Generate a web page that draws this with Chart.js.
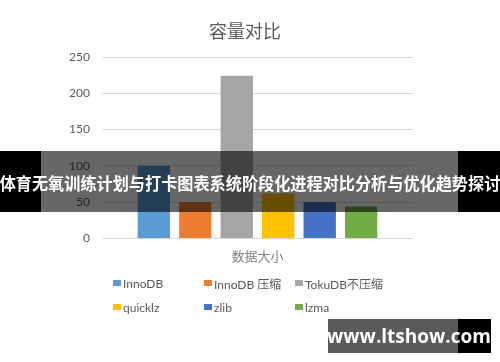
<!DOCTYPE html>
<html>
<head>
<meta charset="utf-8">
<script src="https://cdn.jsdelivr.net/npm/chart.js@4"></script>
<style>
  html, body { margin: 0; padding: 0; background: #fff; }
  #wrap { position: relative; width: 500px; height: 362px; overflow: hidden; }
  #c { position: absolute; left: 0; top: 0; }
  #title { position: absolute; left: 245px; top: 30px; transform: translate(-50%, -50%); white-space: nowrap;
    font-family: 'Noto Sans CJK SC', sans-serif; font-size: 18px; color: #595959; }
  #legend { position: absolute; left: 113px; top: 275px; width: 300px;
    display: grid; grid-template-columns: 91px 91px 110px; row-gap: 8px;
    font-family: Lato, 'Noto Sans CJK SC', sans-serif; font-size: 12px; color: #595959; }
  #legend .it { display: flex; align-items: center; height: 16px; white-space: nowrap; }
  #legend .sw { width: 8px; height: 6px; margin-right: 2px; }
  #banner { position: absolute; left: 0; top: 151px; width: 500px; height: 61px;
    background: linear-gradient(to right, #000 0, #000 41px, rgba(0,0,0,0.6) 41px, rgba(0,0,0,0.6) 458px, #000 458px, #000 500px); }
  #banner span { position: absolute; left: 250px; top: 31px; white-space: nowrap;
    transform: translate(-50%, -50%) scaleX(0.95);
    font-family: 'Noto Sans CJK SC', sans-serif; font-weight: bold; font-size: 17px; color: #fff; }
  #wm { position: absolute; left: 328px; top: 319px; width: 163px; height: 34px;
    background: linear-gradient(to right, #5a5a5a 0, #5a5a5a 130px, #000 130px, #000 163px); }
  #wm span { position: absolute; left: 81px; top: 17px; transform: translate(-50%, -50%);
    white-space: nowrap; font-family: 'Open Sans', 'DejaVu Sans', sans-serif; font-weight: bold; font-size: 19px; color: #fff; }
</style>
</head>
<body>
<div id="wrap">
  <canvas id="c" width="500" height="362"></canvas>
  <div id="title"></div>
  <div id="legend"></div>
  <div id="banner"><span>体育无氧训练计划与打卡图表系统阶段化进程对比分析与优化趋势探讨</span></div>
  <div id="wm"><span>www.ltshow.com</span></div>
</div>
<script>
const chartTitle = '容量对比';
const categories = ['数据大小'];
const seriesNames = ['InnoDB', 'InnoDB 压缩', 'TokuDB不压缩', 'quicklz', 'zlib', 'lzma'];
const seriesValues = [100, 50, 224, 62, 50, 44];
const seriesColors = ['#5B9BD5', '#ED7D31', '#A5A5A5', '#FFC000', '#4472C4', '#70AD47'];
const yTicks = [0, 50, 100, 150, 200, 250];

document.getElementById('title').textContent = chartTitle;

const datasets = seriesNames.map((name, i) => ({
  label: name,
  data: [seriesValues[i]],
  backgroundColor: seriesColors[i],
  barPercentage: 0.78,
  categoryPercentage: 0.80
}));

const legend = document.getElementById('legend');
datasets.forEach(ds => {
  const it = document.createElement('div');
  it.className = 'it';
  const sw = document.createElement('span');
  sw.className = 'sw';
  sw.style.background = ds.backgroundColor;
  const tx = document.createElement('span');
  tx.textContent = ds.label;
  it.appendChild(sw); it.appendChild(tx);
  legend.appendChild(it);
});

new Chart(document.getElementById('c'), {
  type: 'bar',
  data: { labels: categories, datasets },
  options: {
    responsive: false,
    animation: false,
    layout: { padding: { top: 57, right: 87, left: 0, bottom: 88 } },
    plugins: {
      legend: { display: false },
      tooltip: { enabled: false },
      title: { display: false }
    },
    scales: {
      x: {
        grid: { display: false, drawTicks: false },
        border: { display: false },
        ticks: { color: '#7f7f7f', padding: 10, font: { family: "'Noto Sans CJK SC', sans-serif", size: 13 } }
      },
      y: {
        min: 0, max: 250,
        afterFit: s => { s.width = 102; },
        afterBuildTicks: s => { s.ticks = yTicks.map(v => ({ value: v })); },
        grid: { color: '#d9d9d9', drawTicks: false, lineWidth: 1 },
        border: { display: false },
        ticks: { color: '#595959', padding: 12, font: { family: "Lato, 'Noto Sans CJK SC', sans-serif", size: 12 } }
      }
    }
  }
});
</script>
</body>
</html>
